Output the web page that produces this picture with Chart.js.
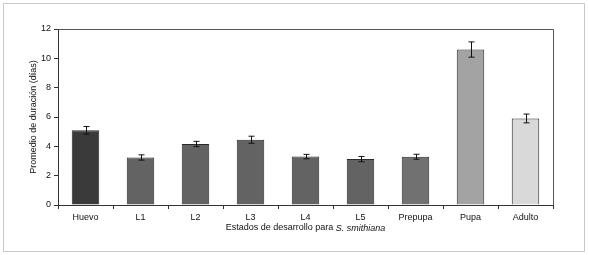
<!DOCTYPE html>
<html>
<head>
<meta charset="utf-8">
<script src="https://cdn.jsdelivr.net/npm/chart.js@4"></script>
<style>
  html, body { margin: 0; padding: 0; background: #fff; }
  #frame { position: absolute; left: 3px; top: 3px; width: 580px; height: 247px; border: 1px solid #c8c8c8; }
  #wrap { position: absolute; left: 0; top: 0; width: 589px; height: 255px; }
</style>
</head>
<body>
<div id="frame"></div>
<div id="wrap"><canvas id="chart"></canvas></div>
<script>
const stages = ['Huevo', 'L1', 'L2', 'L3', 'L4', 'L5', 'Prepupa', 'Pupa', 'Adulto'];
const meanDays = [5.09, 3.24, 4.16, 4.45, 3.3, 3.13, 3.29, 10.6, 5.9];
const errDays = [0.26, 0.18, 0.18, 0.24, 0.15, 0.18, 0.17, 0.52, 0.3];
const barColors = ['#3a3a3a', '#636363', '#636363', '#636363', '#636363', '#636363', '#717171', '#a3a3a3', '#d9d9d9'];

const FONT = 'Liberation Sans, Arial, sans-serif';

// error bars + plot box + axis titles (x title has an italic part)
const extras = {
  id: 'extras',
  afterDatasetsDraw(chart) {
    const { ctx, chartArea: a, scales: { x, y } } = chart;
    ctx.save();
    ctx.strokeStyle = '#111';
    ctx.lineWidth = 1;
    meanDays.forEach((m, i) => {
      const cx = Math.round(x.getPixelForValue(i)) + 0.5;
      const top = y.getPixelForValue(m + errDays[i]);
      const bot = y.getPixelForValue(m - errDays[i]);
      ctx.beginPath();
      ctx.moveTo(cx, top); ctx.lineTo(cx, bot);
      ctx.moveTo(cx - 3, top); ctx.lineTo(cx + 3, top);
      ctx.moveTo(cx - 3, bot); ctx.lineTo(cx + 3, bot);
      ctx.stroke();
    });
    // top and right border of plot
    ctx.strokeStyle = '#555';
    ctx.beginPath();
    ctx.moveTo(a.left, Math.round(a.top) + 0.5);
    ctx.lineTo(Math.round(a.right) + 0.5, Math.round(a.top) + 0.5);
    ctx.lineTo(Math.round(a.right) + 0.5, a.bottom);
    ctx.stroke();

    ctx.fillStyle = '#111';
    ctx.textBaseline = 'middle';
    // x title
    const t1 = 'Estados de desarrollo para ';
    const t2 = 'S. smithiana';
    ctx.font = '9px ' + FONT;
    const w1 = ctx.measureText(t1).width;
    ctx.font = 'italic 9px ' + FONT;
    const w2 = ctx.measureText(t2).width;
    const sx = (a.left + a.right) / 2 - (w1 + w2) / 2;
    ctx.font = '9px ' + FONT;
    ctx.fillText(t1, sx, 228);
    ctx.font = 'italic 9px ' + FONT;
    ctx.fillText(t2, sx + w1, 228);
    // y title
    ctx.save();
    ctx.translate(34, (a.top + a.bottom) / 2);
    ctx.rotate(-Math.PI / 2);
    ctx.textAlign = 'center';
    ctx.font = '9px ' + FONT;
    ctx.fillText('Promedio de duración (días)', 0, 0);
    ctx.restore();
    ctx.restore();
  }
};

new Chart(document.getElementById('chart'), {
  type: 'bar',
  data: {
    labels: stages,
    datasets: [{
      data: meanDays,
      backgroundColor: barColors,
      borderColor: '#2a2a2a',
      borderWidth: 1,
      barPercentage: 0.5,
      categoryPercentage: 1
    }]
  },
  options: {
    responsive: true,
    maintainAspectRatio: false,
    animation: false,
    layout: { padding: { top: 29, right: 36, bottom: 0, left: 0 } },
    plugins: { legend: { display: false }, tooltip: { enabled: false } },
    scales: {
      x: {
        afterFit(s) { s.height = 50; },
        grid: { display: true, drawOnChartArea: false, offset: true, color: '#333', tickLength: 4 },
        border: { color: '#333' },
        ticks: { color: '#111', font: { family: FONT, size: 9 }, padding: 3 }
      },
      y: {
        min: 0, max: 12,
        afterFit(s) { s.width = 58; },
        grid: { display: true, drawOnChartArea: false, color: '#333', tickLength: 4 },
        border: { color: '#333' },
        ticks: { stepSize: 2, color: '#111', font: { family: FONT, size: 9 }, padding: 3 }
      }
    }
  },
  plugins: [extras]
});
</script>
</body>
</html>
